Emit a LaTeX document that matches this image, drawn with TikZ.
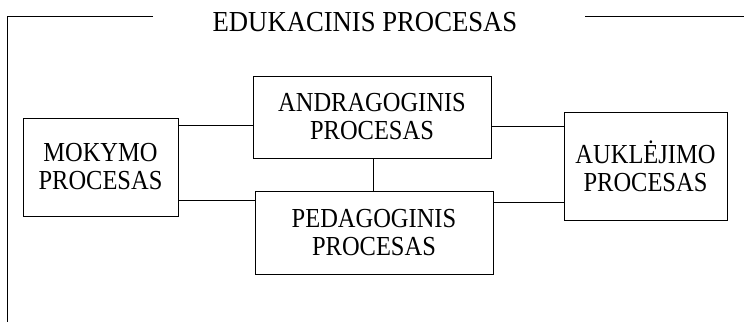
\documentclass[tikz,border=0pt]{standalone}
\usepackage{fontspec}
\setmainfont{Liberation Serif}
\newfontfamily\boxfont[FakeStretch=0.89]{Liberation Serif}
\newfontfamily\titlefont[FakeStretch=0.92]{Liberation Serif}
\begin{document}
\begin{tikzpicture}[x=1pt,y=1pt,
  procbox/.style={draw, line width=0.8pt, inner sep=0pt, align=center,
    font=\boxfont\fontsize{27.5}{28}\selectfont},
  link/.style={line width=0.8pt}]
\useasboundingbox (0,0) rectangle (744,-322);
\node[font=\titlefont\fontsize{29}{30}\selectfont] (title) at (365,-22) {EDUKACINIS PROCESAS};
\coordinate (tl) at (7,-16);
\coordinate (tle) at (153,-16);
\coordinate (bl) at (7,-322);
\coordinate (trs) at (585,-16);
\coordinate (tre) at (744,-16);
\draw[link] (tle) -- (tl) -- (bl);
\draw[link] (trs) -- (tre);

\node[procbox, minimum width=155, minimum height=98] (mok) at (100.5,-167) {MOKYMO\\PROCESAS};
\node[procbox, minimum width=238, minimum height=82] (and) at (372,-117) {ANDRAGOGINIS\\PROCESAS};
\node[procbox, minimum width=238, minimum height=83] (ped) at (374,-232.5) {PEDAGOGINIS\\PROCESAS};
\node[procbox, minimum width=163, minimum height=108] (auk) at (645.5,-166) {AUKLĖJIMO\\PROCESAS};

\draw[link] (mok.east |- 0,-125) -- (and.west |- 0,-125);
\draw[link] (mok.east |- 0,-200) -- (ped.west |- 0,-200);
\draw[link] (and.east |- 0,-126) -- (auk.west |- 0,-126);
\draw[link] (ped.east |- 0,-202) -- (auk.west |- 0,-202);
\draw[link] (and.south -| 373,0) -- (ped.north -| 373,0);
\end{tikzpicture}
\end{document}
